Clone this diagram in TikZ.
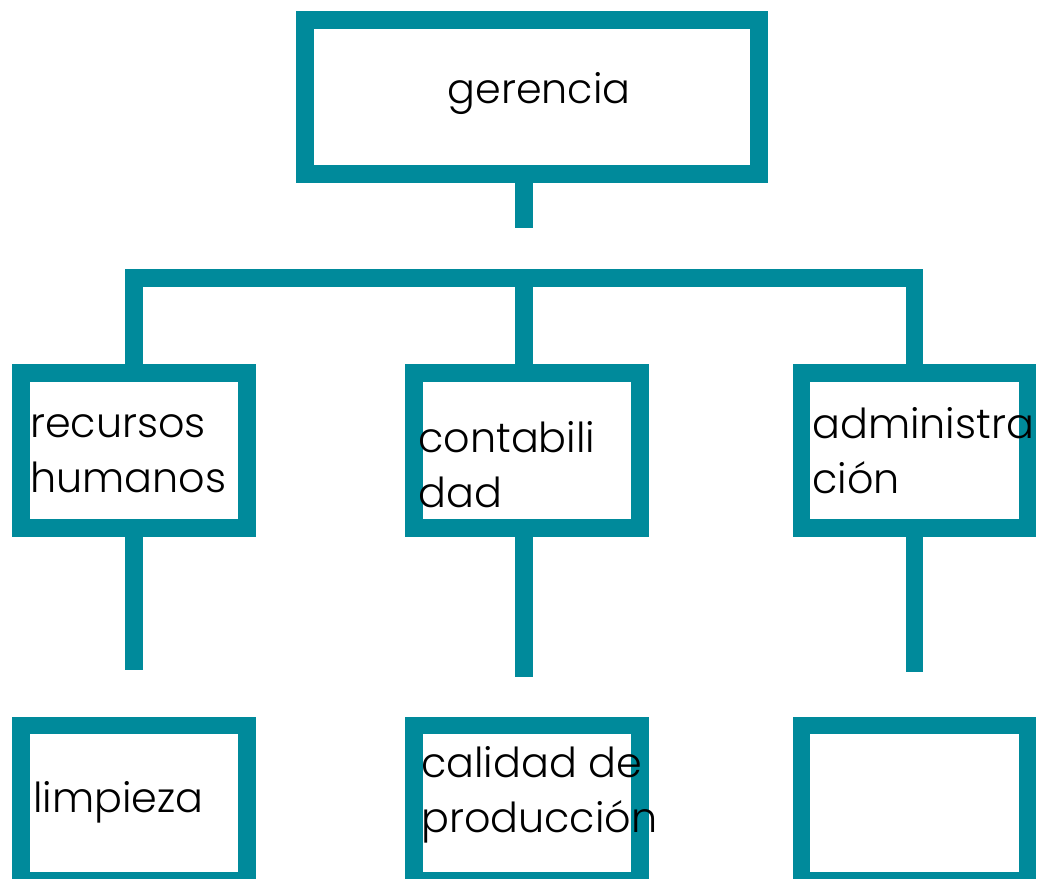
\documentclass[tikz,border=0pt]{standalone}
\usepackage{fontspec}
\IfFontExistsTF{Poppins Light}{\setmainfont{Poppins Light}}{\setmainfont{Poppins}}
\usepackage{xcolor}
\definecolor{petrol}{RGB}{0,138,155}

\tikzset{
	caja/.style={draw=petrol, line width=0.35cm, minimum width=4.52cm, minimum height=3.1cm, inner sep=0pt},
	linea/.style={petrol, line width=0.35cm},
	texto/.style={inner sep=0pt, align=left, anchor=base west, font=\fontsize{23.5}{31.3}\selectfont},
}

\begin{document}
\begin{tikzpicture}[x=0.02cm,y=-0.02cm]
	\useasboundingbox (0,0) rectangle (1038,879);

	%top box
	\node[caja, minimum width=9.08cm, minimum height=3.08cm] (ger) at (532,97) {};

	%middle row
	\node[caja] (rh) at (134,450.5) {};
	\node[caja] (cont) at (527,450.5) {};
	\node[caja] (adm) at (914.5,450.5) {};

	%bottom row
	\node[caja] (limp) at (134,803) {};
	\node[caja] (cal) at (527,803) {};
	\node[caja] (vacia) at (914.5,803) {};

	%bar and stubs
	\coordinate (bar) at (524,278);
	\coordinate (gerfin) at (524,228);
	\draw[linea] (ger.south -| bar) -- (gerfin);
	\draw[linea] (rh.north) |- (bar) -| (adm.north);
	\draw[linea] (bar) -- (cont.north -| bar);

	\coordinate (rhfin) at (134,670);
	\coordinate (contfin) at (524,677);
	\coordinate (admfin) at (914.5,672);
	\draw[linea] (rh.south) -- (rhfin);
	\draw[linea] (cont.south -| bar) -- (contfin);
	\draw[linea] (adm.south) -- (admfin);

	%labels (base = last line)
	\node[texto, anchor=base] (tger) at (539,103) {gerencia};
	\node[texto] (trh) at (30,492) {recursos\\humanos};
	\node[texto] (tcont) at (418,507) {contabili\\dad};
	\node[texto] (tadm) at (812,493) {administra\\ción};
	\node[texto] (tlimp) at (33,812) {limpieza};
	\node[texto] (tcal) at (421,832) {calidad de\\producción};
\end{tikzpicture}
\end{document}
